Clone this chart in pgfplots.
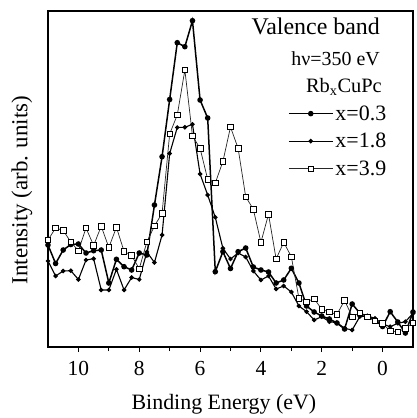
\documentclass[border=0pt]{standalone}
\usepackage{fontspec}
\setmainfont{Liberation Serif}
\usepackage{pgfplots}
\usepackage{pgfplotstable}
\pgfplotsset{compat=1.18}
% E = binding energy (eV); A = x=0.3, B = x=1.8, S = x=3.9 (arb. units)
\pgfplotstableread{
E A B S
11.00 102 86 107
10.75 83.5 71 119
10.50 97 76 116.5
10.25 102.5 76.3 105
10.00 103 67.5 96.3
9.75 94 87 119
9.50 96.3 88.3 101.5
9.25 97 57 120.8
9.00 64 57 99.5
8.75 87.7 77.7 119.7
8.50 80.3 57 95.7
8.25 77 69.5 91.5
8.00 94 67.5 78.2
7.75 92 95 105
7.50 142 84.5 121
7.25 190.3 112 133.7
7.00 247.5 193.5 213
6.75 304.3 219.5 232
6.50 300.3 219.7 277
6.25 326.3 222.7 211
6.00 247 173 198.7
5.75 229 152 167.7
5.50 75.3 129.7 164
5.25 95.3 98.7 185.5
5.00 78.5 88 220
4.75 95.3 94 198.7
4.50 99 90 150.3
4.25 80 76 137.7
4.00 77 67 104.7
3.75 75 71 132.7
3.50 64 58 88
3.25 67 61 104.7
3.00 78.7 55 90.3
2.75 64 41 48.7
2.50 41 35.3 45.3
2.25 35 27 48.3
2.00 31 30.3 37.7
1.75 28 25.3 35
1.50 24 24.3 32.5
1.25 18 18.7 46.7
1.00 43 17 30.3
0.75 34 30.3 34
0.50 30.5 31 30
0.25 27 28.7 26
0.00 20.5 23 23.7
-0.25 35.3 20.3 16
-0.50 25 23.7 15.3
-0.75 14 25.3 18.7
-1.00 35 33.7 24
}\data
\begin{document}
\begin{tikzpicture}
\path[use as bounding box] (0,0) rectangle (417bp,418bp);
\begin{axis}[
  at={(48bp,71bp)}, anchor=south west,
  scale only axis, width=365bp, height=336bp,
  x dir=reverse, xmin=-1, xmax=11, ymin=0, ymax=336,
  xtick={0,2,4,6,8,10}, minor xtick={1,3,5,7,9},
  ytick=\empty, xtick pos=bottom, tick align=outside,
  major tick length=5bp, minor tick length=4bp,
  axis line style={line width=1.2bp},
  tick style={black, line width=0.9bp},
  /pgf/number format/assume math mode=true,
  tick label style={font=\fontsize{21.5}{25}\selectfont},
  xticklabel style={yshift=-6bp},
  xlabel={Binding Energy (eV)}, ylabel={Intensity (arb. units)},
  label style={font=\fontsize{22}{26}\selectfont},
  xlabel style={at={(axis description cs:0.482,-0.17)}, anchor=center},
  ylabel style={at={(axis description cs:-0.0712,0.467)}, anchor=center, font=\fontsize{23}{27}\selectfont},
  clip=false,
  legend style={at={(axis description cs:0.657,0.725)}, anchor=north west,
    draw=none, fill=none, font=\fontsize{22}{26}\selectfont, inner sep=0pt, row sep=7.5bp},
  legend cell align=left,
  legend image code/.code={\draw[mark repeat=2,mark phase=2,#1] plot coordinates {(0bp,0bp) (22bp,0bp) (44bp,0bp)};},
]
\addplot[black, line width=1.5bp, mark=*, mark size=2bp] table[x=E,y=A]{\data};
\addlegendentry{x=0.3}
\addplot[black, line width=1.1bp, mark=*, mark size=1.7bp] table[x=E,y=B]{\data};
\addlegendentry{x=1.8}
\addplot[black!85, line width=0.7bp, mark=square*, mark size=2.8bp, mark options={fill=white, draw=black, line width=0.7bp}] table[x=E,y=S]{\data};
\addlegendentry{x=3.9}
\node[anchor=base east, inner sep=0pt, font=\fontsize{24}{28}\selectfont] at (axis description cs:0.9096,0.9286) {Valence band};
\node[anchor=base east, inner sep=0pt, font=\fontsize{20}{24}\selectfont] at (axis description cs:0.9096,0.839) {hν=350 eV};
\node[anchor=base east, inner sep=0pt, font=\fontsize{20.5}{24}\selectfont] at (axis description cs:0.915,0.758) {Rb\textsubscript{x}CuPc};
\end{axis}
\end{tikzpicture}
\end{document}
